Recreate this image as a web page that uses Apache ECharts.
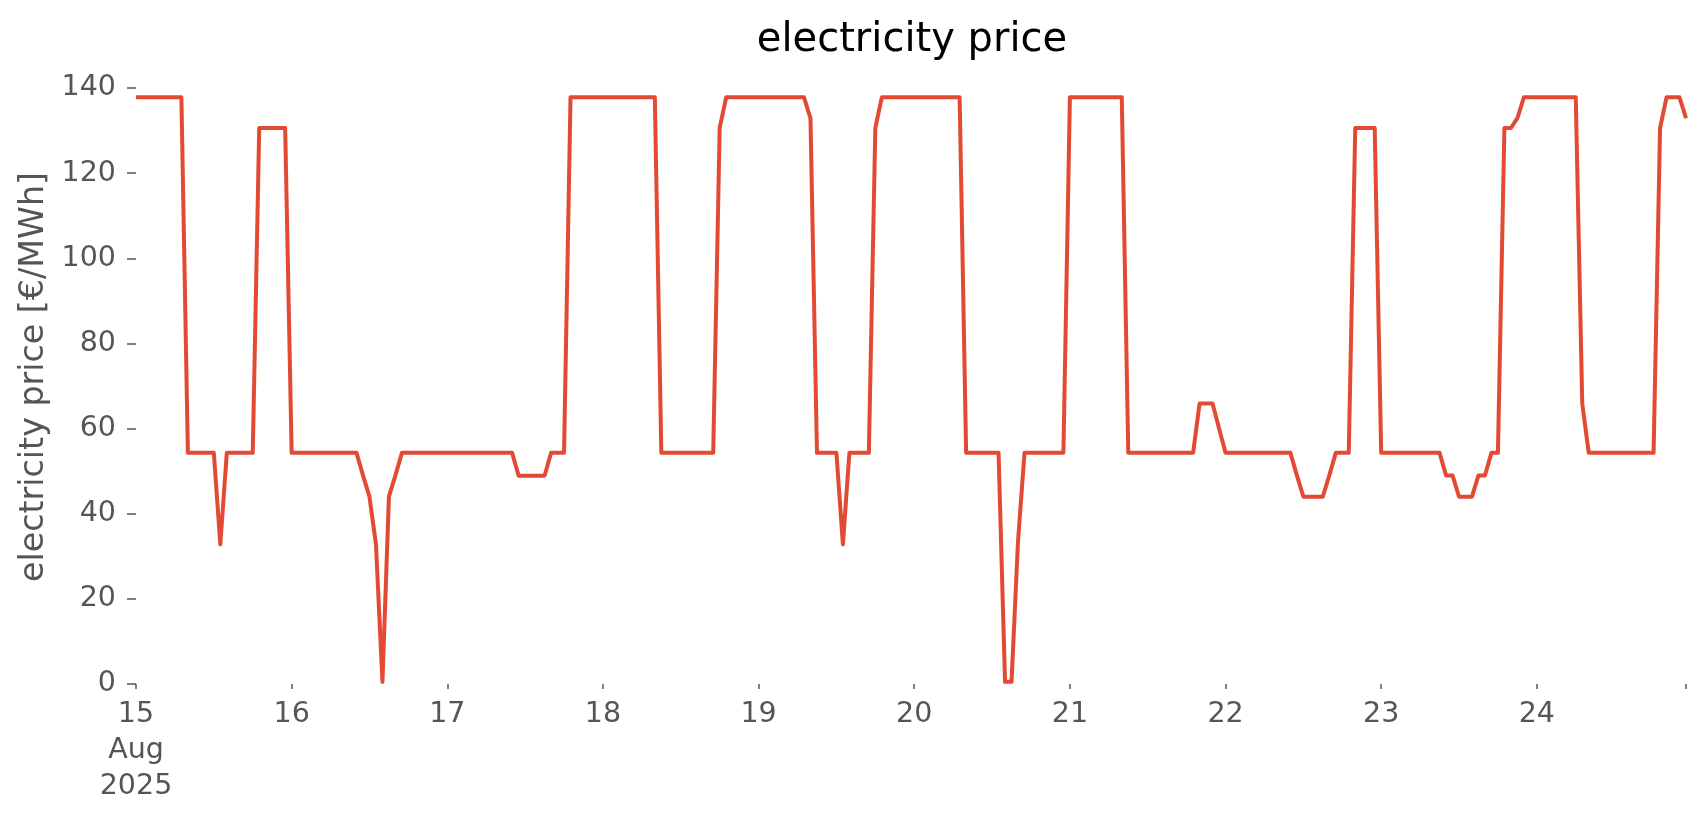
<!DOCTYPE html>
<html>
<head>
<meta charset="utf-8">
<script src="https://cdn.jsdelivr.net/npm/echarts@6/dist/echarts.min.js"></script>
<style>
    body { margin: 0; background: #fff; }
    #price { width: 1706px; height: 815px; }
</style>
</head>
<body>
<div id="price"></div>
<script>
    // hourly prices [€/MWh], one array per day (00:00 .. 23:00)
    const aug15 = [137.8, 137.8, 137.8, 137.8, 137.8, 137.8, 137.8, 137.8, 54.3, 54.3, 54.3, 54.3, 54.3, 32.8, 54.3, 54.3, 54.3, 54.3, 54.3, 130.6, 130.6, 130.6, 130.6, 130.6];
    const aug16 = [54.3, 54.3, 54.3, 54.3, 54.3, 54.3, 54.3, 54.3, 54.3, 54.3, 54.3, 49, 44, 32.8, 0.5, 44, 49, 54.3, 54.3, 54.3, 54.3, 54.3, 54.3, 54.3];
    const aug17 = [54.3, 54.3, 54.3, 54.3, 54.3, 54.3, 54.3, 54.3, 54.3, 54.3, 54.3, 48.9, 48.9, 48.9, 48.9, 48.9, 54.3, 54.3, 54.3, 137.8, 137.8, 137.8, 137.8, 137.8];
    const aug18 = [137.8, 137.8, 137.8, 137.8, 137.8, 137.8, 137.8, 137.8, 137.8, 54.3, 54.3, 54.3, 54.3, 54.3, 54.3, 54.3, 54.3, 54.3, 130.6, 137.8, 137.8, 137.8, 137.8, 137.8];
    const aug19 = [137.8, 137.8, 137.8, 137.8, 137.8, 137.8, 137.8, 137.8, 132.9, 54.3, 54.3, 54.3, 54.3, 32.8, 54.3, 54.3, 54.3, 54.3, 130.6, 137.8, 137.8, 137.8, 137.8, 137.8];
    const aug20 = [137.8, 137.8, 137.8, 137.8, 137.8, 137.8, 137.8, 137.8, 54.3, 54.3, 54.3, 54.3, 54.3, 54.3, 0.5, 0.5, 33.5, 54.3, 54.3, 54.3, 54.3, 54.3, 54.3, 54.3];
    const aug21 = [137.8, 137.8, 137.8, 137.8, 137.8, 137.8, 137.8, 137.8, 137.8, 54.3, 54.3, 54.3, 54.3, 54.3, 54.3, 54.3, 54.3, 54.3, 54.3, 54.3, 65.9, 65.9, 65.9, 60];
    const aug22 = [54.3, 54.3, 54.3, 54.3, 54.3, 54.3, 54.3, 54.3, 54.3, 54.3, 54.3, 49, 44, 44, 44, 44, 49, 54.3, 54.3, 54.3, 130.6, 130.6, 130.6, 130.6];
    const aug23 = [54.3, 54.3, 54.3, 54.3, 54.3, 54.3, 54.3, 54.3, 54.3, 54.3, 49, 49, 44, 44, 44, 49, 49, 54.3, 54.3, 130.6, 130.6, 132.9, 137.8, 137.8];
    const aug24 = [137.8, 137.8, 137.8, 137.8, 137.8, 137.8, 137.8, 65.9, 54.3, 54.3, 54.3, 54.3, 54.3, 54.3, 54.3, 54.3, 54.3, 54.3, 54.3, 130.6, 137.8, 137.8, 137.8, 132.9];

    const days = ['15', '16', '17', '18', '19', '20', '21', '22', '23', '24'];
    const dayValues = [aug15, aug16, aug17, aug18, aug19, aug20, aug21, aug22, aug23, aug24];

    // hourly category labels
    const hours = [];
    const prices = [];
    days.forEach(function (d, i) {
        dayValues[i].forEach(function (v, h) {
            hours.push('2025-08-' + d + ' ' + (h < 10 ? '0' + h : h) + ':00');
            prices.push(v);
        });
    });
    const last = hours.length - 1;

    const font = 'DejaVu Sans';
    const grey = '#555555';

    const myChart = echarts.init(document.getElementById('price'));
    const option = {
        animation: false,
        title: {
            text: 'electricity price',
            left: 907,
            textAlign: 'center',
            top: 16,
            textStyle: {
                fontFamily: font,
                fontSize: 40,
                fontWeight: 'normal',
                color: '#000'
            }
        },
        grid: {
            left: 136,
            right: 20,
            top: 88,
            bottom: 131
        },
        xAxis: {
            type: 'category',
            data: hours,
            boundaryGap: false,
            axisLine: { show: false },
            axisTick: {
                show: true,
                length: 5,
                interval: function (i) { return i % 24 === 0 || i === last; },
                lineStyle: { color: grey, width: 1.5 }
            },
            axisLabel: {
                interval: function (i) { return i % 24 === 0; },
                formatter: function (v, i) {
                    const d = v.slice(8, 10);
                    return i === 0 ? d + '\nAug\n2025' : d;
                },
                fontFamily: font,
                fontSize: 28.5,
                lineHeight: 36,
                color: grey,
                margin: 13
            },
            splitLine: { show: false }
        },
        yAxis: {
            type: 'value',
            min: 0,
            max: 140,
            interval: 20,
            name: 'electricity price [€/MWh]',
            nameLocation: 'middle',
            nameGap: 84,
            nameTextStyle: {
                fontFamily: font,
                fontSize: 33.3,
                color: grey,
                padding: [0, 0, 0, 18]
            },
            axisLine: { show: false },
            axisTick: {
                show: true,
                length: 9,
                lineStyle: { color: grey, width: 1.5 }
            },
            axisLabel: {
                fontFamily: font,
                fontSize: 28.5,
                color: grey,
                margin: 20
            },
            splitLine: { show: false }
        },
        series: [
            {
                name: 'electricity price',
                type: 'line',
                data: prices,
                showSymbol: false,
                lineStyle: {
                    color: '#E24A33',
                    width: 4,
                    join: 'round'
                }
            }
        ]
    };
    myChart.setOption(option);
</script>
</body>
</html>
